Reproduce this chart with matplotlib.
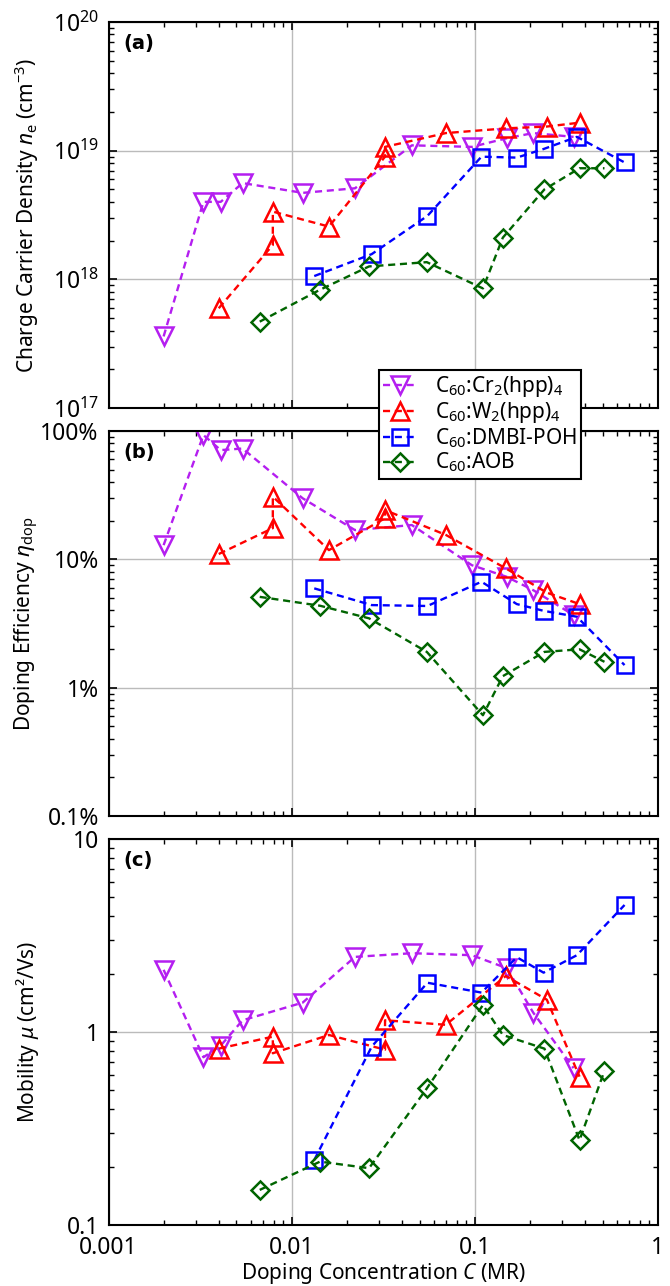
import matplotlib

matplotlib.use("Agg")
import matplotlib.pyplot as plt
import numpy as np
from matplotlib.lines import Line2D
from matplotlib.ticker import FuncFormatter, LogLocator, NullFormatter

plt.rcParams["font.family"] = ["Noto Sans", "DejaVu Sans"]
plt.rcParams["mathtext.fontset"] = "custom"
plt.rcParams["mathtext.rm"] = "Noto Sans"
plt.rcParams["mathtext.it"] = "Noto Sans:italic"
plt.rcParams["mathtext.bf"] = "Noto Sans:bold"

# doping concentration (MR) per dopant
c_cr = [0.002, 0.0033, 0.0041, 0.0054, 0.0115, 0.0222, 0.0454, 0.0966, 0.15, 0.209, 0.347]
c_w = [0.004, 0.0079, 0.0079, 0.016, 0.0324, 0.0324, 0.0696, 0.148, 0.248, 0.374]
c_dmbi = [0.0133, 0.0274, 0.0552, 0.109, 0.17, 0.238, 0.362, 0.659]
c_aob = [0.0067, 0.0143, 0.0265, 0.0548, 0.111, 0.1426, 0.2406, 0.374, 0.512]

# (a) charge carrier density n_e (cm^-3)
n_cr = [3.6e17, 4.0e18, 4.0e18, 5.6e18, 4.7e18, 5.1e18, 1.1e19, 1.07e19, 1.25e19, 1.37e19, 1.28e19]
n_w = [5.96e17, 1.85e18, 3.36e18, 2.57e18, 8.98e18, 1.07e19, 1.37e19, 1.49e19, 1.54e19, 1.65e19]
n_dmbi = [1.06e18, 1.57e18, 3.11e18, 8.98e18, 8.83e18, 1.03e19, 1.28e19, 8.1e18]
n_aob = [4.69e17, 8.3e17, 1.26e18, 1.36e18, 8.5e17, 2.11e18, 5.0e18, 7.3e18, 7.3e18]

# (b) doping efficiency (%)
eta_cr = [12.9, 93, 71, 73, 29.9, 16.9, 18.5, 9.0, 7.3, 5.75, 3.68]
eta_w = [11.0, 17.5, 30.8, 11.8, 20.9, 24.2, 15.5, 8.5, 5.5, 4.48]
eta_dmbi = [5.94, 4.4, 4.33, 6.69, 4.48, 3.97, 3.57, 1.5]
eta_aob = [5.1, 4.35, 3.47, 1.9, 0.61, 1.23, 1.9, 1.99, 1.59]

# (c) mobility (cm^2/Vs)
mu_cr = [2.1, 0.74, 0.85, 1.15, 1.42, 2.45, 2.56, 2.5, 2.14, 1.26, 0.65]
mu_w = [0.82, 0.946, 0.776, 0.965, 0.81, 1.15, 1.09, 1.95, 1.47, 0.587]
mu_dmbi = [0.217, 0.84, 1.8, 1.6, 2.44, 2.03, 2.5, 4.55]
mu_aob = [0.152, 0.213, 0.197, 0.51, 1.38, 0.965, 0.82, 0.275, 0.63]

labels = [
    r"C$_{60}$:Cr$_2$(hpp)$_4$",
    r"C$_{60}$:W$_2$(hpp)$_4$",
    r"C$_{60}$:DMBI-POH",
    r"C$_{60}$:AOB",
]
colors = ["#B41EF0", "#FF0000", "#0000FF", "#006400"]
markers = ["v", "^", "s", "D"]
msizes = [13.5, 13.5, 12, 9.5]

xs = [c_cr, c_w, c_dmbi, c_aob]
panels = [
    ([n_cr, n_w, n_dmbi, n_aob], (1e17, 1e20), r"Charge Carrier Density $n_\mathrm{e}$ (cm$^{-3}$)", "(a)"),
    ([eta_cr, eta_w, eta_dmbi, eta_aob], (0.1, 100), r"Doping Efficiency $\eta_\mathrm{dop}$", "(b)"),
    ([mu_cr, mu_w, mu_dmbi, mu_aob], (0.1, 10), r"Mobility $\mu$ (cm²/Vs)", "(c)"),
]

W, H = 670, 1286
fig = plt.figure(figsize=(W / 100, H / 100), dpi=100)
left, right = 108.5, 657.7
boxes = [(22, 408), (431, 816), (839, 1225)]


def pct_fmt(v, pos):
    if v >= 1:
        return f"{v:.0f}%"
    return f"{v:g}%"


def plain_fmt(v, pos):
    return f"{v:g}"


for i, (ys, ylim, ylabel, tag) in enumerate(panels):
    top, bot = boxes[i]
    ax = fig.add_axes([left / W, 1 - bot / H, (right - left) / W, (bot - top) / H])
    ax.set_xscale("log")
    ax.set_yscale("log")
    for x, y, col, m, ms in zip(xs, ys, colors, markers, msizes):
        ax.plot(x, y, linestyle="--", color=col, lw=1.7, marker=m, ms=ms,
                mfc="none", mec=col, mew=1.8, dashes=(3, 2))
    ax.set_xlim(0.001, 1)
    ax.set_ylim(*ylim)
    ax.grid(True, which="major", color="#BBBBBB", lw=1)
    ax.set_axisbelow(True)
    ax.xaxis.set_minor_locator(LogLocator(base=10, subs=np.arange(2, 10)))
    ax.yaxis.set_minor_locator(LogLocator(base=10, subs=np.arange(2, 10)))
    ax.tick_params(which="both", direction="in", top=True, right=True, labelsize=16.5)
    ax.tick_params(which="major", length=6, width=1.2)
    ax.tick_params(which="minor", length=3.5, width=1)
    ax.tick_params(axis="y", which="major", pad=7)
    ax.tick_params(axis="x", which="major", pad=8)
    for s in ax.spines.values():
        s.set_linewidth(1.5)
    if i == 1:
        ax.yaxis.set_major_formatter(FuncFormatter(pct_fmt))
    if i == 2:
        ax.yaxis.set_major_formatter(FuncFormatter(plain_fmt))
        ax.xaxis.set_major_formatter(FuncFormatter(plain_fmt))
        ax.set_xlabel(r"Doping Concentration $C$ (MR)", fontsize=15, labelpad=1)
    else:
        ax.xaxis.set_major_formatter(NullFormatter())
    ax.yaxis.set_minor_formatter(NullFormatter())
    ax.xaxis.set_minor_formatter(NullFormatter())
    ax.set_ylabel(ylabel, fontsize=15)
    ax.yaxis.set_label_coords(-0.122, 0.5)
    ax.text(0.027, 0.945, tag, transform=ax.transAxes, fontsize=14, fontweight="bold",
            family="DejaVu Sans", va="center", ha="left")

handles = [
    Line2D([], [], linestyle="--", color=c, lw=1.7, marker=m, ms=ms, mfc="none", mec=c,
           mew=1.8, dashes=(3, 2))
    for c, m, ms in zip(colors, markers, msizes)
]
leg = fig.legend(handles, labels, loc="upper left", bbox_to_anchor=(379 / W, 1 - 370 / H),
                 borderaxespad=0, fontsize=15, fancybox=False, framealpha=1,
                 edgecolor="black", handlelength=1.6, labelspacing=0.05, borderpad=0.2,
                 handletextpad=0.9)
leg.get_frame().set_linewidth(1.5)

fig.savefig("out.png", dpi=100)
